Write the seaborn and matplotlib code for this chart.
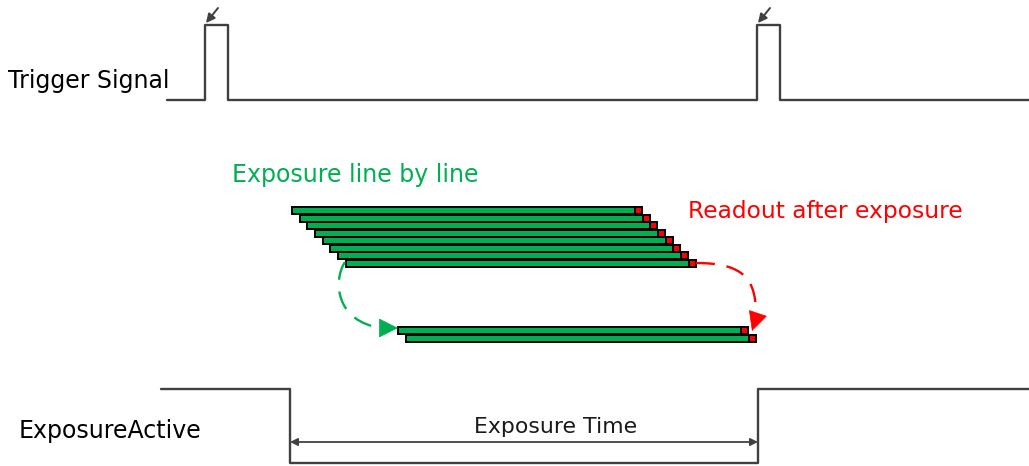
import numpy as np
import pandas as pd
import seaborn as sns
import matplotlib.pyplot as plt
from matplotlib.path import Path
from matplotlib.patches import PathPatch, FancyArrowPatch

# waveforms (pixel coordinates, y grows downward)
trigger_x = [167, 205, 205, 228, 228, 757, 757, 780, 780, 1029]
trigger_y = [100, 100, 25, 25, 100, 100, 25, 25, 100, 100]
active_x = [161, 290, 290, 758, 758, 1029]
active_y = [389, 389, 463, 463, 389, 389]
trigger_marks = [(218, 8, 206, 23), (770, 8, 758, 23)]

# line-by-line exposure bars
top_left = [292, 300, 307, 315, 323, 330, 338, 346]
top_y = [207, 214.5, 222, 229.5, 237, 244.5, 252, 259.5]
bottom_left = [398, 406]
bottom_y = [327, 335]
exposure_len = 343
readout_len = 7
bar_h = 7

labels = ['Trigger Signal', 'ExposureActive']
label_x = [8, 19]
label_y = [88, 438]

GREEN = '#00b050'
RED = '#ff0000'
GRAY = '#404040'

sns.set_theme(style='white')
plt.rcParams['font.family'] = ['DejaVu Sans']

fig = plt.figure(figsize=(10.29, 4.66), dpi=100)
ax = fig.add_axes([0, 0, 1, 1])

sig = pd.DataFrame({'x': trigger_x, 'y': trigger_y})
sns.lineplot(data=sig, x='x', y='y', sort=False, estimator=None,
             color=GRAY, lw=1.7, ax=ax)
act = pd.DataFrame({'x': active_x, 'y': active_y})
sns.lineplot(data=act, x='x', y='y', sort=False, estimator=None,
             color=GRAY, lw=1.7, ax=ax)
ax.set_xlim(0, 1029)
ax.set_ylim(466, 0)
ax.axis('off')

for x0, y0, x1, y1 in trigger_marks:
    ax.add_patch(FancyArrowPatch((x0, y0), (x1, y1), arrowstyle='-|>',
                                 mutation_scale=13, color=GRAY, lw=1.4,
                                 shrinkA=0, shrinkB=0))

for left, y in list(zip(top_left, top_y)) + list(zip(bottom_left, bottom_y)):
    ax.barh(y, exposure_len, height=bar_h, left=left, align='edge',
            color=GREEN, edgecolor='black', lw=1.4)
    ax.barh(y, readout_len, height=bar_h, left=left + exposure_len, align='edge',
            color=RED, edgecolor='black', lw=1.4)

# dashed transfer arrows
green_path = Path([(345, 262), (333, 280), (335, 322), (382, 328)],
                  [Path.MOVETO, Path.CURVE4, Path.CURVE4, Path.CURVE4])
ax.add_patch(PathPatch(green_path, fc='none', ec=GREEN, lw=1.7, ls=(0, (8, 5))))
ax.add_patch(FancyArrowPatch((384, 328), (398, 328), arrowstyle='-|>,head_length=0.8,head_width=0.4',
                             mutation_scale=16, color=GREEN, lw=0.5,
                             shrinkA=0, shrinkB=0))

red_path = Path([(696, 263), (745, 263), (756, 280), (756, 315)],
                [Path.MOVETO, Path.CURVE4, Path.CURVE4, Path.CURVE4])
ax.add_patch(PathPatch(red_path, fc='none', ec=RED, lw=1.7, ls=(0, (8, 5))))
ax.add_patch(FancyArrowPatch((757, 316), (752, 331), arrowstyle='-|>,head_length=0.8,head_width=0.4',
                             mutation_scale=16, color=RED, lw=0.5,
                             shrinkA=0, shrinkB=0))

# exposure time dimension
ax.add_patch(FancyArrowPatch((290, 442), (758, 442), arrowstyle='<|-|>',
                             mutation_scale=11, color=GRAY, lw=1.3,
                             shrinkA=0, shrinkB=0))
ax.text(556, 433, 'Exposure Time', fontsize=15.8, color='#1a1a1a',
        ha='center', va='baseline')

for txt, x, y in zip(labels, label_x, label_y):
    ax.text(x, y, txt, fontsize=17, color='black', ha='left', va='baseline')

ax.text(232, 182, 'Exposure line by line', fontsize=17, color=GREEN,
        va='baseline')
ax.text(688, 218, 'Readout after exposure', fontsize=16.8, color=RED,
        va='baseline')

fig.savefig('out.png', dpi=100)
